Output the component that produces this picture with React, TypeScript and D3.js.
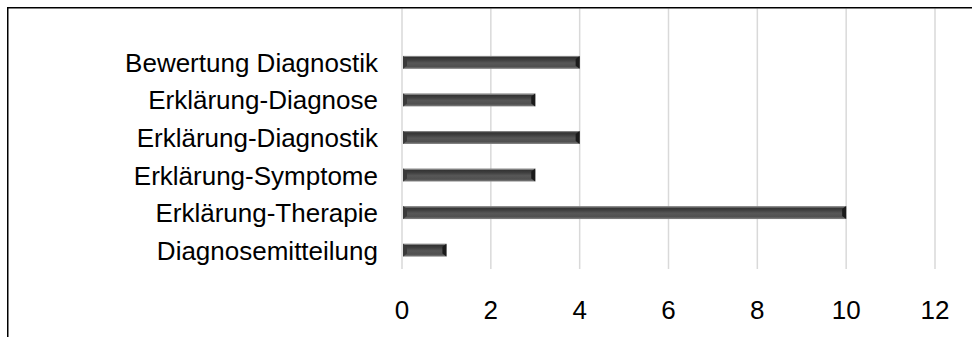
import React from "react";
import * as d3 from "d3";

const categories = [
  "Bewertung Diagnostik",
  "Erklärung-Diagnose",
  "Erklärung-Diagnostik",
  "Erklärung-Symptome",
  "Erklärung-Therapie",
  "Diagnosemitteilung",
];
const values = [4, 3, 4, 3, 10, 1];
const xTicks = [0, 2, 4, 6, 8, 10, 12];

const W = 972;
const H = 337;

export default function App() {
  const x = d3.scaleLinear().domain([0, 12]).range([402, 935]);
  const y = d3
    .scaleBand<string>()
    .domain(categories)
    .range([43.5, 269])
    .paddingInner(0.655)
    .paddingOuter(0.33);
  const bh = y.bandwidth();
  const font = "'Liberation Sans', Arial, sans-serif";

  return (
    <div style={{ position: "fixed", left: 0, top: 0 }}>
      <svg width={W} height={H} style={{ display: "block", background: "#fff" }}>
        <defs>
          <linearGradient id="barGrad" x1="0" y1="0" x2="0" y2="1">
            <stop offset="0%" stopColor="#808080" />
            <stop offset="10%" stopColor="#808080" />
            <stop offset="12%" stopColor="#333" />
            <stop offset="30%" stopColor="#3e3e3e" />
            <stop offset="55%" stopColor="#575757" />
            <stop offset="82%" stopColor="#505050" />
            <stop offset="90%" stopColor="#666" />
            <stop offset="100%" stopColor="#858585" />
          </linearGradient>
        </defs>
        {xTicks.map((t) => (
          <line
            key={"g" + t}
            x1={x(t)}
            x2={x(t)}
            y1={8.5}
            y2={269}
            stroke="#d9d9d9"
            strokeWidth={1.5}
          />
        ))}
        {categories.map((c, i) => {
          const y0 = y(c)!;
          const x0 = x(0) + 1;
          const x1 = x(values[i]);
          const b = 4;
          return (
            <g key={c}>
              <rect x={x0} y={y0} width={x1 - x0} height={bh} fill="url(#barGrad)" />
              <polygon
                points={`${x0},${y0} ${x0 + b},${y0 + 3} ${x0 + b},${y0 + bh - 3} ${x0},${y0 + bh}`}
                fill="#3a3a3a"
              />
              <polygon
                points={`${x1},${y0} ${x1 - b},${y0 + 3} ${x1 - b},${y0 + bh - 3} ${x1},${y0 + bh}`}
                fill="#1a1a1a"
              />
              <text
                x={378}
                y={y0 + bh / 2 + 9.5}
                textAnchor="end"
                fontFamily={font}
                fontSize={26}
                fill="#000"
              >
                {c}
              </text>
            </g>
          );
        })}
        {xTicks.map((t) => (
          <text
            key={"t" + t}
            x={x(t)}
            y={319}
            textAnchor="middle"
            fontFamily={font}
            fontSize={26}
            fill="#000"
          >
            {t}
          </text>
        ))}
        <line x1={7.75} x2={7.75} y1={7} y2={H} stroke="#000" strokeWidth={1.5} />
        <line x1={7} x2={W} y1={7.75} y2={7.75} stroke="#000" strokeWidth={1.5} />
      </svg>
    </div>
  );
}
